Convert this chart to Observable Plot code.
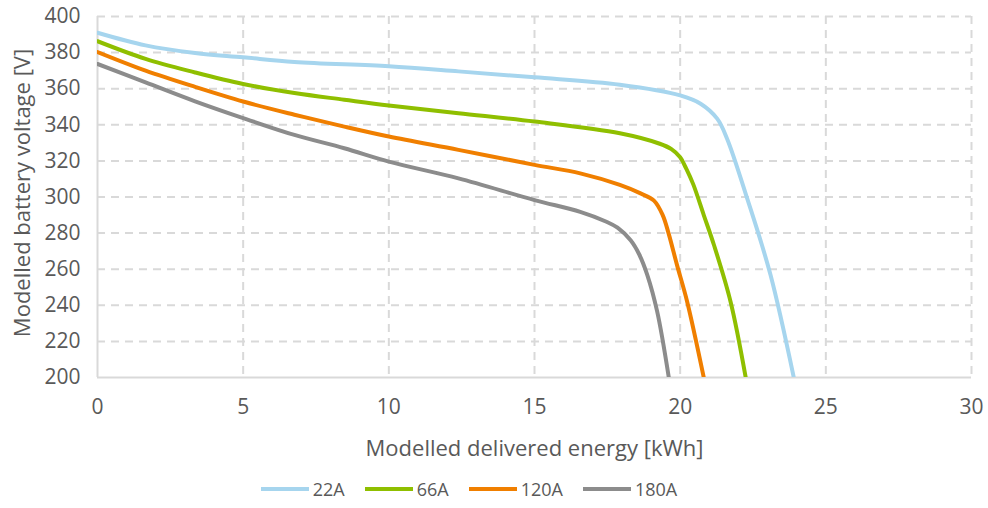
<!DOCTYPE html>
<html>
<head>
<meta charset="utf-8">
<script src="https://cdn.jsdelivr.net/npm/d3@7"></script>
<script src="https://cdn.jsdelivr.net/npm/@observablehq/plot@0.6"></script>
<style>
  body { margin: 0; background: #fff; font-family: "Open Sans", "DejaVu Sans", sans-serif; }
  #chart svg g[aria-label$="tick label"], #chart svg g[aria-label$="tick label"] text { font-size: 21px !important; }
  #legend { display: flex; justify-content: center; align-items: center; gap: 20px; height: 38px; font-size: 18px; color: #595959; padding-right: 50px; }
  .item { display: flex; align-items: center; gap: 4px; }
  .sw { width: 48px; height: 4px; display: inline-block; }
</style>
</head>
<body>
<div id="chart"></div>
<div id="legend"></div>
<script>
const series = ["22A", "66A", "120A", "180A"];
const colors = ["#a6d5ee", "#8fbf00", "#f07f00", "#8c8c8c"];
const xTicks = [0, 5, 10, 15, 20, 25, 30];
const yTicks = [200, 220, 240, 260, 280, 300, 320, 340, 360, 380, 400];

const energy22 = [0, 1.65, 3.35, 5, 6.76, 10, 12.39, 15, 17.93, 20.0, 20.7, 21.27, 21.61, 22.3, 23.1, 23.9];
const volt22   = [391, 384, 379.8, 377.4, 374.8, 372.4, 369.6, 366.3, 362.2, 356.3, 351.7, 343.4, 332.3, 299.2, 256.9, 200];

const energy66 = [0, 1.65, 3.35, 5, 6.76, 8.47, 10, 12.39, 15, 17.93, 19.3, 19.7, 20.0, 20.2, 20.45, 20.81, 21.16, 21.73, 22.25];
const volt66   = [386.3, 376.5, 369, 362.6, 357.6, 353.9, 350.7, 346.4, 341.8, 335.3, 329.5, 326.5, 322, 316, 307, 290, 273.4, 242, 200];

const energy120 = [0, 1.65, 3.35, 5, 6.76, 8.47, 10, 12.39, 15, 16.57, 17.93, 18.64, 19.1, 19.4, 19.6, 19.89, 20.24, 20.81];
const volt120   = [380.3, 370, 361, 352.9, 345.6, 339, 333.5, 326.1, 317.8, 313.1, 306.7, 302, 298, 290, 280, 262.4, 242, 200];

const energy180 = [0, 1.65, 3.35, 5, 6.76, 8.47, 10, 12.39, 15, 16.57, 17.47, 17.85, 18.3, 18.6, 18.87, 19.21, 19.61];
const volt180   = [373.7, 363.5, 353, 343.7, 334.4, 327, 319.6, 310.3, 298.3, 291.8, 286.3, 283, 276, 268, 256.9, 236.6, 200];

const xs = [energy22, energy66, energy120, energy180];
const ys = [volt22, volt66, volt120, volt180];
const data = series.flatMap((s, i) => xs[i].map((x, j) => ({series: s, x, y: ys[i][j]})));

const grid = "#d9d9d9";
const textColor = "#595959";

const chart = Plot.plot({
  width: 988,
  height: 470,
  marginLeft: 97,
  marginRight: 17,
  marginTop: 16,
  marginBottom: 93,
  style: { fontFamily: "'Open Sans', 'DejaVu Sans', sans-serif", fontSize: "19px", color: textColor, background: "#fff" },
  x: { domain: [0, 30], label: null },
  y: { domain: [200, 400], label: null },
  color: { domain: series, range: colors },
  marks: [
    Plot.ruleX(xTicks.filter(d => d > 0), { stroke: grid, strokeWidth: 2, strokeDasharray: "8,6" }),
    Plot.ruleY(yTicks.filter(d => d > 200), { stroke: grid, strokeWidth: 2, strokeDasharray: "8,6" }),
    Plot.ruleX([0], { stroke: grid, strokeWidth: 2 }),
    Plot.ruleY([200], { stroke: grid, strokeWidth: 2 }),
    Plot.line(data, { x: "x", y: "y", z: "series", stroke: "series", strokeWidth: 4, curve: "catmull-rom", clip: true }),
    Plot.axisX({ ticks: xTicks, tickSize: 0, tickPadding: 22, label: null, fill: textColor }),
    Plot.axisY({ ticks: yTicks, tickSize: 0, tickPadding: 17, label: null, fill: textColor }),
    Plot.text(["Modelled delivered energy [kWh]"], { frameAnchor: "bottom", lineAnchor: "middle", dy: 71, fontSize: 22, fill: textColor }),
    Plot.text(["Modelled battery voltage [V]"], { frameAnchor: "left", textAnchor: "middle", lineAnchor: "middle", dx: -75, dy: -4, rotate: -90, fontSize: 22, fill: textColor })
  ]
});
document.getElementById("chart").appendChild(chart);

const legend = document.getElementById("legend");
series.forEach((s, i) => {
  const item = document.createElement("div");
  item.className = "item";
  const sw = document.createElement("span");
  sw.className = "sw";
  sw.style.background = colors[i];
  const t = document.createElement("span");
  t.textContent = s;
  item.appendChild(sw);
  item.appendChild(t);
  legend.appendChild(item);
});
</script>
</body>
</html>
